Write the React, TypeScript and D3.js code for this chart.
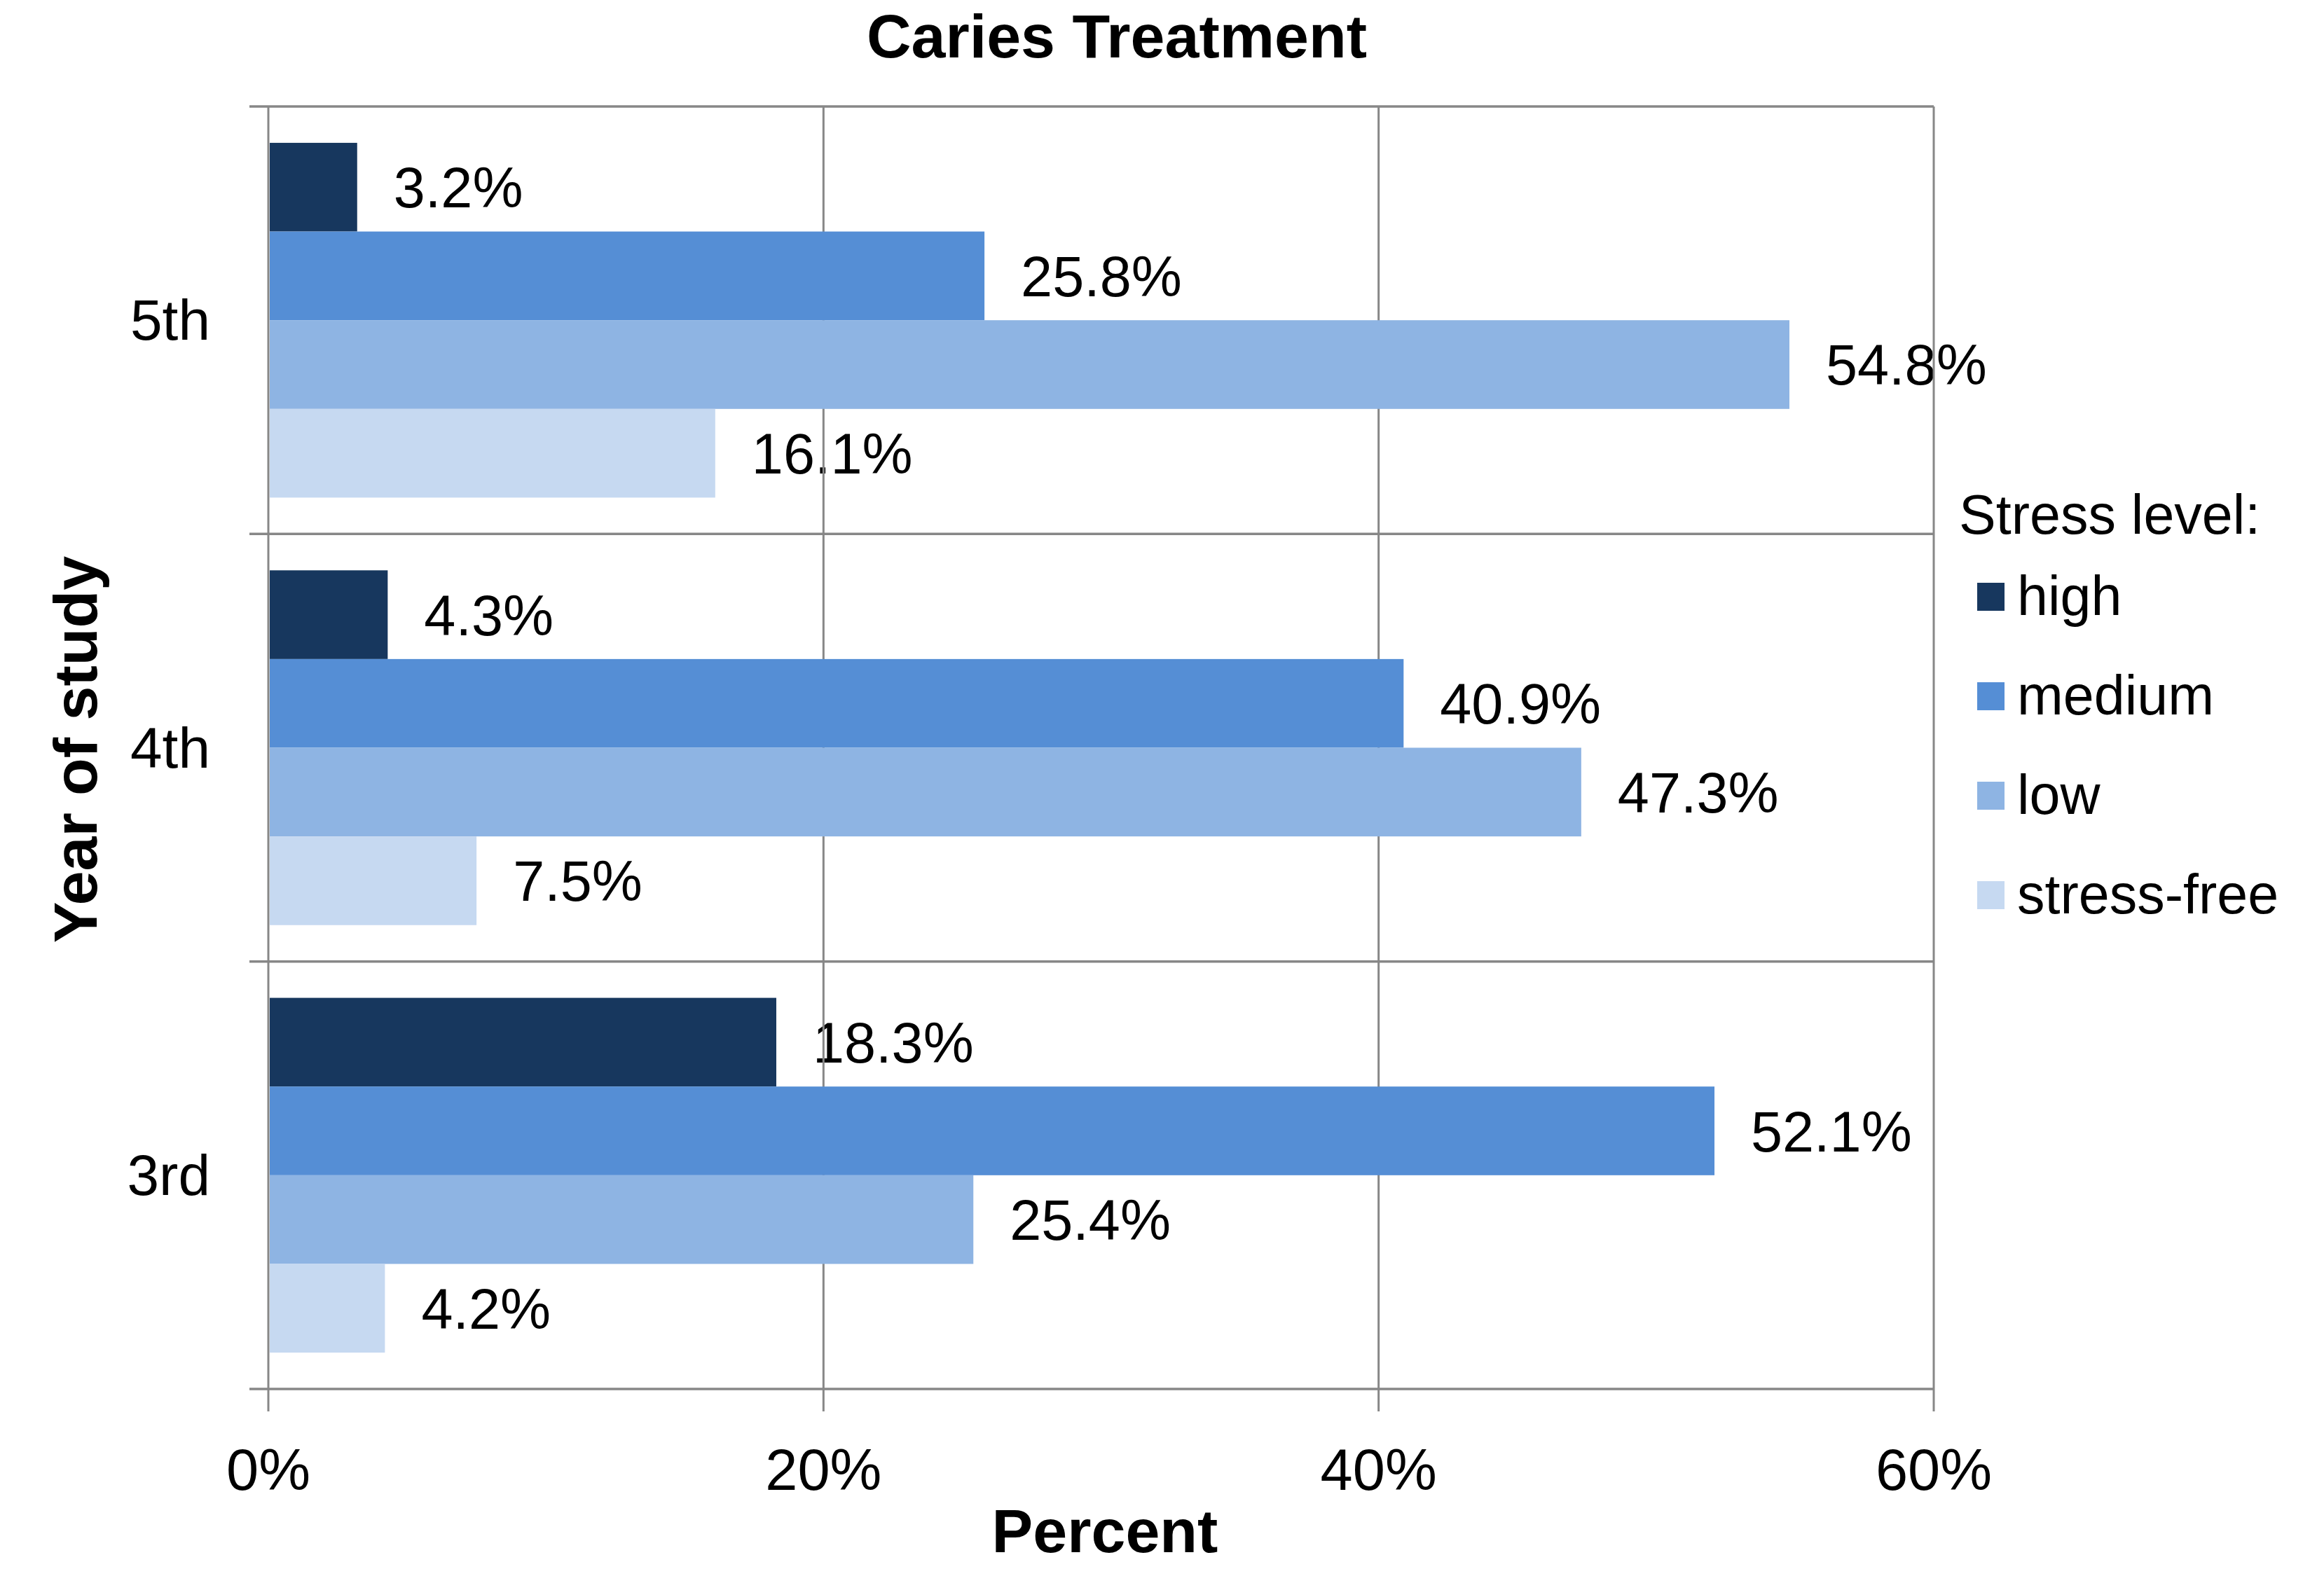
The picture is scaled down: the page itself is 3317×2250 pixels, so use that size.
import { scaleBand, scaleLinear, scaleOrdinal } from "d3";

// data (percent)
const years = ["5th", "4th", "3rd"];
const levels = ["high", "medium", "low", "stress-free"];
const high = [3.2, 4.3, 18.3];
const medium = [25.8, 40.9, 52.1];
const low = [54.8, 47.3, 25.4];
const stressFree = [16.1, 7.5, 4.2];
const xTicks = [0, 20, 40, 60];
const levelColors = ["#17375E", "#558ED5", "#8EB4E3", "#C6D9F1"];

const W = 3317;
const H = 2250;
const FONT = "'Liberation Sans', Arial, sans-serif";
const GRID = "#878787";

function App() {
    const plot = { left: 383, right: 2760, top: 152, bottom: 1983 };

    const x = scaleLinear().domain([0, 60]).range([plot.left, plot.right]);
    const y = scaleBand().domain(years).range([plot.top, plot.bottom]);
    const inner = scaleBand()
        .domain(levels)
        .range([0, y.bandwidth()])
        .paddingInner(0)
        .paddingOuter(0.41);
    const color = scaleOrdinal<string, string>().domain(levels).range(levelColors);

    const series = [high, medium, low, stressFree];
    const bars = years.flatMap((yr, i) =>
        levels.map((lv, j) => ({ yr, lv, v: series[j][i] }))
    );

    // band edges for the horizontal lines
    const edges = years.map((yr) => y(yr)!).concat([plot.bottom]);

    return (
        <svg
            width={W}
            height={H}
            style={{ position: "absolute", left: 0, top: 0, background: "#fff" }}
            fontFamily={FONT}
        >
            <text
                x={1594}
                y={82}
                textAnchor="middle"
                fontSize={88}
                fontWeight="bold"
            >
                Caries Treatment
            </text>

            {/* data labels (under the grid like the original) */}
            {bars.map((d) => (
                <text
                    key={"l" + d.yr + d.lv}
                    x={x(d.v) + 52}
                    y={y(d.yr)! + inner(d.lv)! + inner.bandwidth() / 2 + 29}
                    fontSize={81}
                    fill="#000"
                >
                    {d.v.toFixed(1)}%
                </text>
            ))}

            {/* vertical grid + ticks */}
            {xTicks.map((t) => (
                <line
                    key={"g" + t}
                    x1={x(t)}
                    x2={x(t)}
                    y1={plot.top}
                    y2={plot.bottom + 32}
                    stroke={GRID}
                    strokeWidth={3}
                />
            ))}
            {/* horizontal category lines + ticks */}
            {edges.map((e, i) => (
                <line
                    key={"h" + i}
                    x1={plot.left - 27}
                    x2={plot.right}
                    y1={e}
                    y2={e}
                    stroke={GRID}
                    strokeWidth={3.5}
                />
            ))}

            {bars.map((d) => (
                <rect
                    key={"b" + d.yr + d.lv}
                    x={x(0) + 2}
                    y={y(d.yr)! + inner(d.lv)!}
                    width={x(d.v) - x(0) - 2}
                    height={inner.bandwidth()}
                    fill={color(d.lv)}
                />
            ))}

            {/* x tick labels */}
            {xTicks.map((t) => (
                <text
                    key={"t" + t}
                    x={x(t)}
                    y={2127}
                    textAnchor="middle"
                    fontSize={83}
                >
                    {t}%
                </text>
            ))}

            {/* category labels */}
            {years.map((yr) => (
                <text
                    key={"c" + yr}
                    x={300}
                    y={y(yr)! + y.bandwidth() / 2 + 28}
                    textAnchor="end"
                    fontSize={82}
                >
                    {yr}
                </text>
            ))}

            <text
                x={1577}
                y={2216}
                textAnchor="middle"
                fontSize={88}
                fontWeight="bold"
            >
                Percent
            </text>
            <text
                transform="translate(138,1070) rotate(-90)"
                textAnchor="middle"
                fontSize={88}
                fontWeight="bold"
            >
                Year of study
            </text>

            {/* legend */}
            <text x={2796} y={762} fontSize={79}>
                Stress level:
            </text>
            {levels.map((lv, i) => (
                <g key={"lg" + lv} transform={`translate(2822, ${832 + i * 142})`}>
                    <rect width={39} height={40} fill={color(lv)} />
                    <text x={57} y={46} fontSize={79}>
                        {lv}
                    </text>
                </g>
            ))}
        </svg>
    );
}

export default App;
